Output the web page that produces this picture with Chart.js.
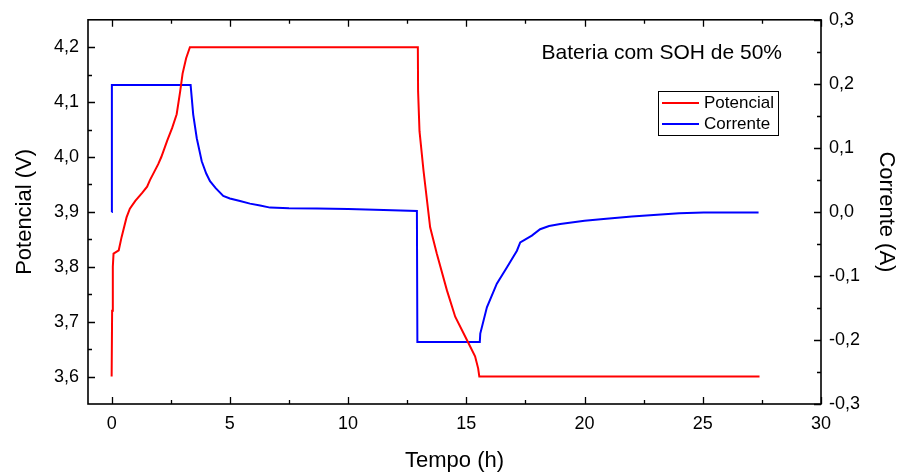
<!DOCTYPE html>
<html>
<head>
<meta charset="utf-8">
<script src="https://cdn.jsdelivr.net/npm/chart.js@4"></script>
<style>
  body { margin: 0; background: #fff; }
  canvas { display: block; }
</style>
</head>
<body>
<canvas id="batteryChart" width="899" height="476"></canvas>
<script>
// Potencial (V) vs tempo (h)
const potTime = [0, 0.02, 0.05, 0.08, 0.3, 0.42, 0.63, 0.77, 1.0, 1.3, 1.5, 1.62, 1.97, 2.1, 2.35, 2.56, 2.75, 2.9, 3.0, 3.15, 3.31,
    12.95, 12.96, 13.02, 13.19, 13.47, 13.75, 14.18, 14.53, 15.02, 15.37, 15.5, 15.55, 27.4];
const potValues = [3.6, 3.72, 3.8, 3.824, 3.83, 3.854, 3.89, 3.906, 3.92, 3.935, 3.946, 3.958, 3.987, 4.0, 4.03, 4.053, 4.078, 4.12, 4.152, 4.18, 4.2,
    4.2, 4.12, 4.047, 3.975, 3.872, 3.824, 3.757, 3.709, 3.667, 3.637, 3.615, 3.6, 3.6];

// Corrente (A) vs tempo (h)
const curTime = [0, 0.01, 3.34, 3.45, 3.6, 3.81, 4.0, 4.16, 4.4, 4.72, 5.0, 5.43, 5.85, 6.28, 6.7, 7.5, 8.68, 10, 11.5, 12.91,
    12.93, 15.57, 15.59, 15.87, 16.29, 16.72, 17.14, 17.28, 17.5, 17.77, 18.12, 18.5, 18.97, 20, 20.8, 22, 22.92, 24, 25.04, 27.36];
const curValues = [0, 0.198, 0.198, 0.152, 0.115, 0.079, 0.06, 0.048, 0.037, 0.025, 0.021, 0.017, 0.0129, 0.01, 0.0067, 0.0057, 0.0055, 0.0045, 0.003, 0.0015,
    -0.203, -0.203, -0.19, -0.149, -0.112, -0.0865, -0.0606, -0.0477, -0.043, -0.037, -0.027, -0.022, -0.019, -0.014, -0.011, -0.007, -0.0047, -0.002, -0.001, -0.001];

// tick labels
const xTicks = [0, 5, 10, 15, 20, 25, 30];
const xMinorTicks = [2.5, 7.5, 12.5, 17.5, 22.5, 27.5];
const vTicks = [3.6, 3.7, 3.8, 3.9, 4.0, 4.1, 4.2];
const vMinorTicks = [3.65, 3.75, 3.85, 3.95, 4.05, 4.15];
const aTicks = [-0.3, -0.2, -0.1, 0.0, 0.1, 0.2, 0.3];
const aMinorTicks = [-0.25, -0.15, -0.05, 0.05, 0.15, 0.25];

const FONT = "'Liberation Sans', Arial, sans-serif";

function comma(v, digits) {
    return v.toFixed(digits).replace(".", ",");
}

// frame, inward ticks, annotation text and legend
const framePlugin = {
    id: "frame",
    afterDraw(chart) {
        const ctx = chart.ctx;
        const a = chart.chartArea;
        const x = chart.scales.x, y = chart.scales.y, y1 = chart.scales.y1;
        ctx.save();
        ctx.strokeStyle = "#000";
        ctx.lineWidth = 1.6;
        ctx.strokeRect(a.left, a.top, a.right - a.left, a.bottom - a.top);

        const major = 7, minor = 4;
        ctx.lineWidth = 1.3;
        ctx.beginPath();
        const vx = (list, len) => list.forEach((t) => {
            const px = Math.round(x.getPixelForValue(t)) + 0.5;
            ctx.moveTo(px, a.bottom); ctx.lineTo(px, a.bottom - len);
            ctx.moveTo(px, a.top); ctx.lineTo(px, a.top + len);
        });
        vx(xTicks, major); vx(xMinorTicks, minor);
        const hl = (list, len) => list.forEach((t) => {
            const py = Math.round(y.getPixelForValue(t)) + 0.5;
            ctx.moveTo(a.left, py); ctx.lineTo(a.left + len, py);
        });
        hl(vTicks, major); hl(vMinorTicks, minor);
        const hr = (list, len) => list.forEach((t) => {
            const py = Math.round(y1.getPixelForValue(t)) + 0.5;
            ctx.moveTo(a.right, py); ctx.lineTo(a.right - len, py);
        });
        hr(aTicks, major); hr(aMinorTicks, minor);
        ctx.stroke();

        // annotation
        ctx.fillStyle = "#000";
        ctx.font = "21px " + FONT;
        ctx.textAlign = "right";
        ctx.textBaseline = "middle";
        ctx.fillText("Bateria com SOH de 50%", 782, 53);

        // legend box
        ctx.lineWidth = 1;
        ctx.strokeRect(658.5, 91.5, 120, 44);
        ctx.font = "17px " + FONT;
        ctx.textAlign = "left";
        chart.data.datasets.forEach((ds, i) => {
            const ly = 103 + i * 21;
            ctx.strokeStyle = ds.borderColor;
            ctx.lineWidth = 2;
            ctx.beginPath();
            ctx.moveTo(662, ly); ctx.lineTo(699, ly);
            ctx.stroke();
            ctx.fillStyle = "#000";
            ctx.fillText(ds.label, 704, ly);
        });
        ctx.restore();
    },
};

const ctx = document.getElementById("batteryChart").getContext("2d");

new Chart(ctx, {
    type: "line",
    data: {
        datasets: [
            {
                label: "Potencial",
                data: potTime.map((t, i) => ({ x: t, y: potValues[i] })),
                borderColor: "#ff0000",
                borderWidth: 2,
                pointRadius: 0,
                tension: 0,
                yAxisID: "y",
            },
            {
                label: "Corrente",
                data: curTime.map((t, i) => ({ x: t, y: curValues[i] })),
                borderColor: "#0000ff",
                borderWidth: 2,
                pointRadius: 0,
                tension: 0,
                yAxisID: "y1",
            },
        ],
    },
    options: {
        responsive: false,
        animation: false,
        events: [],
        layout: { padding: { top: 18, left: 0, right: 0, bottom: 0 } },
        plugins: {
            legend: { display: false },
            title: { display: false },
            tooltip: { enabled: false },
        },
        scales: {
            x: {
                type: "linear",
                min: -1,
                max: 30,
                grid: { display: false, drawTicks: false },
                border: { display: false },
                afterBuildTicks: (s) => { s.ticks = xTicks.map((v) => ({ value: v })); },
                afterFit: (s) => { s.height = 72; },
                ticks: {
                    color: "#000",
                    padding: 9,
                    font: { family: FONT, size: 18 },
                    callback: (v) => String(v),
                },
                title: {
                    display: true,
                    text: "Tempo (h)",
                    color: "#000",
                    font: { family: FONT, size: 22 },
                    padding: { top: 0, bottom: 2 },
                },
            },
            y: {
                position: "left",
                min: 3.55,
                max: 4.25,
                grid: { display: false, drawTicks: false },
                border: { display: false },
                afterBuildTicks: (s) => { s.ticks = vTicks.map((v) => ({ value: v })); },
                afterFit: (s) => { s.width = 88; },
                ticks: {
                    color: "#000",
                    padding: 9,
                    font: { family: FONT, size: 18 },
                    callback: (v) => comma(v, 1),
                },
                title: {
                    display: true,
                    text: "Potencial (V)",
                    color: "#000",
                    font: { family: FONT, size: 22 },
                    padding: { top: 12, bottom: 0 },
                },
            },
            y1: {
                position: "right",
                min: -0.3,
                max: 0.3,
                grid: { display: false, drawTicks: false },
                border: { display: false },
                afterBuildTicks: (s) => { s.ticks = aTicks.map((v) => ({ value: v })); },
                afterFit: (s) => { s.width = 78; },
                ticks: {
                    color: "#000",
                    padding: 8,
                    font: { family: FONT, size: 18 },
                    callback: (v) => comma(v, 1),
                },
                title: {
                    display: true,
                    text: "Corrente (A)",
                    color: "#000",
                    font: { family: FONT, size: 22 },
                    padding: { top: 0, bottom: 0 },
                },
            },
        },
    },
    plugins: [framePlugin],
});
</script>
</body>
</html>
